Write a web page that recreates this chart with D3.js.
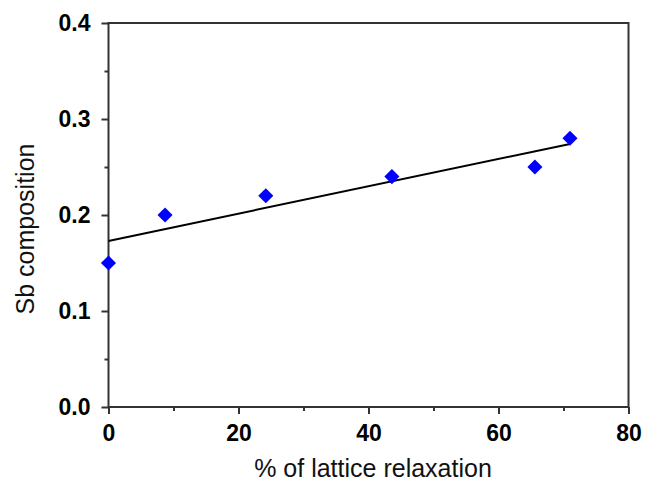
<!DOCTYPE html>
<html>
<head>
<meta charset="utf-8">
<script src="https://cdn.jsdelivr.net/npm/d3@7"></script>
<style>
  html, body { margin: 0; padding: 0; background: #fff; }
</style>
</head>
<body>
<div id="chart"></div>
<script>
// data
const relaxation = [0, 8.7, 24.2, 43.6, 65.6, 71.0];
const sbComp = [0.15, 0.20, 0.22, 0.24, 0.25, 0.28];
// linear fit drawn in the figure (two ends)
const fitX = [0, 71.0];
const fitY = [0.173, 0.274];

const xMajor = [0, 20, 40, 60, 80];
const xMinor = [10, 30, 50, 70];
const yMajor = [0, 0.1, 0.2, 0.3, 0.4];
const yMinor = [0.05, 0.15, 0.25, 0.35];

const W = 654, H = 483;
const M = { left: 108.5, right: 25.5, top: 23, bottom: 76 };
const pw = W - M.left - M.right;
const ph = H - M.top - M.bottom;
const AXIS = '#333';
const FONT = 'Arial, "Liberation Sans", sans-serif';

const x = d3.scaleLinear().domain([0, 80]).range([0, pw]);
const y = d3.scaleLinear().domain([0, 0.4]).range([ph, 0]);

const svg = d3.select('#chart').append('svg')
  .attr('width', W).attr('height', H);

const g = svg.append('g').attr('transform', `translate(${M.left},${M.top})`);

// ── frame ─────────────────────────────────────────────────────────────
g.append('rect')
  .attr('x', 0).attr('y', 0).attr('width', pw).attr('height', ph)
  .attr('fill', 'none').attr('stroke', AXIS).attr('stroke-width', 2);

// ── axes ──────────────────────────────────────────────────────────────
function styleAxis(sel) {
  sel.select('.domain').remove();
  sel.selectAll('.tick line').attr('stroke', AXIS).attr('stroke-width', 2);
  sel.selectAll('.tick text')
    .attr('fill', '#000')
    .attr('font-family', FONT)
    .attr('font-weight', 'bold')
    .attr('font-size', '23px');
}

g.append('g').attr('transform', `translate(0,${ph})`)
  .call(d3.axisBottom(x).tickValues(xMinor).tickSize(4).tickFormat(''))
  .call(styleAxis);
g.append('g').attr('transform', `translate(0,${ph})`)
  .call(d3.axisBottom(x).tickValues(xMajor).tickSize(7).tickPadding(11).tickFormat(d3.format('d')))
  .call(styleAxis);

g.append('g')
  .call(d3.axisLeft(y).tickValues(yMinor).tickSize(4).tickFormat(''))
  .call(styleAxis);
g.append('g')
  .call(d3.axisLeft(y).tickValues(yMajor).tickSize(7).tickPadding(11).tickFormat(d3.format('.1f')))
  .call(styleAxis);

// ── axis titles ───────────────────────────────────────────────────────
svg.append('text')
  .attr('x', 373).attr('y', 477)
  .attr('text-anchor', 'middle')
  .attr('font-family', FONT).attr('font-size', '25px').attr('fill', '#111')
  .text('% of lattice relaxation');

svg.append('text')
  .attr('transform', 'translate(34,229) rotate(-90)')
  .attr('text-anchor', 'middle')
  .attr('font-family', FONT).attr('font-size', '25px').attr('fill', '#111')
  .text('Sb composition');

// ── fit line ──────────────────────────────────────────────────────────
g.append('path')
  .datum(fitX.map((d, i) => [d, fitY[i]]))
  .attr('d', d3.line().x(d => x(d[0])).y(d => y(d[1])))
  .attr('fill', 'none').attr('stroke', '#000').attr('stroke-width', 2);

// ── points ────────────────────────────────────────────────────────────
const diamond = d3.symbol().type(d3.symbolDiamond2).size(145);
g.selectAll('.pt')
  .data(relaxation.map((d, i) => [d, sbComp[i]]))
  .join('path')
  .attr('class', 'pt')
  .attr('transform', d => `translate(${x(d[0])},${y(d[1])})`)
  .attr('d', diamond)
  .attr('fill', '#0000ff');
</script>
</body>
</html>
